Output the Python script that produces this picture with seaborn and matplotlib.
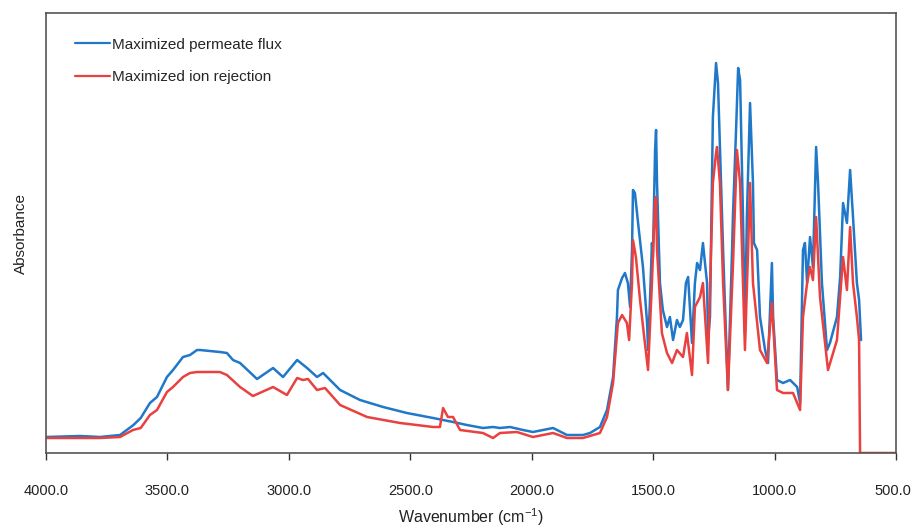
import matplotlib
matplotlib.use("Agg")
import matplotlib.pyplot as plt
import matplotlib.transforms as mtransforms
import seaborn as sns
import pandas as pd

# Wavenumber (cm-1) and absorbance (arbitrary units)
flux_wn = [4000, 3860, 3778, 3695, 3640, 3610, 3572, 3543, 3502, 3477, 3436, 3407,
           3378, 3366, 3284, 3255, 3230, 3201, 3131, 3065, 3024, 2966, 2925, 2884,
           2859, 2789, 2707, 2612, 2514, 2406, 2365, 2324, 2267, 2201, 2159, 2131,
           2089, 2036, 1995, 1912, 1855, 1789, 1760, 1719, 1690, 1665, 1649, 1645,
           1628, 1616, 1604, 1595, 1587, 1583, 1575, 1562, 1542, 1525, 1521, 1513,
           1505, 1501, 1492, 1488, 1484, 1472, 1460, 1443, 1431, 1418, 1402, 1390,
           1377, 1365, 1356, 1340, 1328, 1319, 1307, 1295, 1278, 1274, 1266, 1254,
           1241, 1233, 1212, 1192, 1175, 1171, 1159, 1150, 1142, 1130, 1122, 1114,
           1101, 1089, 1085, 1072, 1060, 1039, 1027, 1011, 1006, 990, 965, 936,
           907, 895, 883, 875, 866, 854, 842, 829, 821, 805, 784, 772, 743, 730,
           718, 702, 689, 677, 661, 652, 644]
flux_abs = [16, 17, 16, 18, 28, 35, 50, 56, 76, 83, 96, 98,
            103, 103, 101, 100, 93, 90, 74, 85, 76, 93, 85, 76,
            80, 63, 53, 46, 40, 35, 33, 31, 28, 25, 26, 25,
            26, 23, 21, 25, 18, 18, 20, 26, 43, 76, 136, 163,
            175, 180, 170, 146, 203, 263, 260, 230, 186, 130, 103, 153,
            210, 196, 303, 323, 270, 170, 143, 126, 136, 113, 133, 126,
            133, 170, 176, 110, 170, 190, 183, 210, 170, 113, 136, 336,
            390, 370, 203, 63, 203, 240, 320, 385, 373, 236, 120, 236,
            350, 270, 210, 203, 136, 103, 90, 190, 136, 73, 70, 73,
            66, 50, 203, 210, 170, 216, 186, 306, 270, 170, 103, 110, 136, 176,
            250, 230, 283, 236, 170, 153, 113]

rej_wn = [4000, 3860, 3778, 3695, 3642, 3610, 3572, 3543, 3502, 3477, 3436, 3407,
          3378, 3366, 3284, 3255, 3201, 3148, 3065, 3008, 2966, 2942, 2921, 2884,
          2851, 2789, 2678, 2542, 2406, 2378, 2365, 2345, 2324, 2295, 2201, 2159,
          2131, 2061, 1995, 1912, 1855, 1789, 1719, 1690, 1665, 1645, 1628, 1608,
          1599, 1587, 1583, 1571, 1554, 1534, 1521, 1505, 1492, 1488, 1484, 1464,
          1443, 1422, 1402, 1377, 1361, 1340, 1328, 1307, 1295, 1274, 1254, 1241,
          1237, 1225, 1212, 1192, 1171, 1155, 1142, 1122, 1109, 1101, 1089, 1060,
          1031, 1011, 990, 965, 924, 895, 883, 866, 854, 842, 829, 813, 780, 743,
          718, 702, 689, 677, 661, 652, 648, 500]
rej_abs = [15, 15, 15, 16, 23, 25, 38, 43, 61, 66, 76, 80,
           81, 81, 81, 78, 66, 57, 66, 58, 75, 73, 74, 63,
           65, 48, 36, 30, 26, 26, 45, 36, 36, 23, 20, 15,
           20, 21, 16, 20, 15, 15, 20, 36, 70, 130, 138, 130,
           113, 170, 213, 196, 153, 110, 83, 170, 253, 256, 203, 120,
           100, 90, 103, 96, 120, 78, 146, 156, 170, 90, 270, 300,
           306, 270, 170, 63, 190, 303, 270, 103, 203, 270, 170, 103,
           90, 150, 63, 60, 60, 43, 136, 170, 186, 173, 236, 156, 83, 113,
           196, 163, 226, 170, 136, 113, 0, 0]

series_names = ["Maximized permeate flux", "Maximized ion rejection"]
colors = ["#1f78c8", "#e8413f"]

x_ticks = [4000, 3500, 3000, 2500, 2000, 1500, 1000, 500]

df = pd.concat([
    pd.DataFrame({"Wavenumber": flux_wn, "Absorbance": flux_abs, "Series": series_names[0]}),
    pd.DataFrame({"Wavenumber": rej_wn, "Absorbance": rej_abs, "Series": series_names[1]}),
], ignore_index=True)

sns.set_theme(style="white")
plt.rcParams["font.family"] = ["Liberation Sans", "DejaVu Sans"]
plt.rcParams["mathtext.fontset"] = "custom"
plt.rcParams["mathtext.rm"] = "Liberation Sans"
plt.rcParams["mathtext.it"] = "Liberation Sans:italic"

fig = plt.figure(figsize=(9.13, 5.29), dpi=100)
ax = fig.add_axes([46 / 913, 76 / 529, 850 / 913, 440 / 529])

sns.lineplot(data=df, x="Wavenumber", y="Absorbance", hue="Series",
             palette=dict(zip(series_names, colors)), estimator=None,
             linewidth=1.8, ax=ax)

ax.set_xlim(4000, 500)
ax.set_ylim(0, 440)
ax.set_xticks(x_ticks)
ax.set_xticklabels([f"{t:.1f}" for t in x_ticks])
ax.set_yticks([])
ax.tick_params(axis="x", direction="out", length=5, width=1, color="#333333",
               pad=17, labelsize=10.5, labelcolor="#222222", bottom=True)
# nudge the last tick label slightly left so it stays inside the canvas
last = ax.get_xticklabels()[-1]
last.set_transform(last.get_transform() +
                   mtransforms.ScaledTranslation(-3 / 100, 0, fig.dpi_scale_trans))
for s in ax.spines.values():
    s.set_color("#555555")
    s.set_linewidth(1.2)

ax.set_xlabel("Wavenumber (cm$^{\\mathregular{-1}}$)", fontsize=11.5, color="#222222", labelpad=6)
ax.set_ylabel("Absorbance", fontsize=11, color="#222222", labelpad=13)

leg = ax.legend(loc="upper left", bbox_to_anchor=(0.018, 0.975), frameon=False,
                fontsize=11, handlelength=2.3, handletextpad=0.15, labelspacing=1.2)
for line in leg.get_lines():
    line.set_linewidth(1.6)

fig.savefig("out.png", dpi=100)
